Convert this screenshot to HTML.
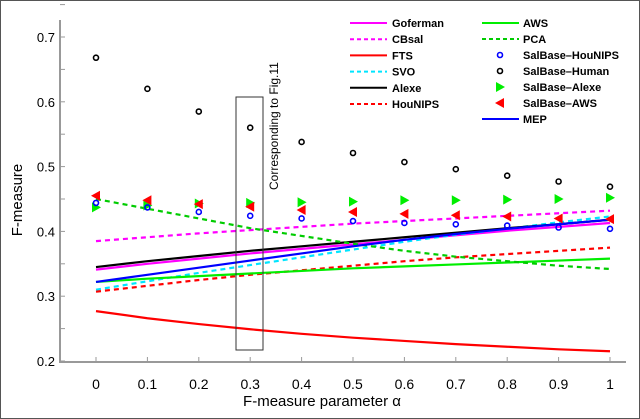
<!DOCTYPE html>
<html><head><meta charset="utf-8"><style>
body{margin:0;background:#fff;}
svg{display:block;font-family:"Liberation Sans",sans-serif;}
</style></head><body>
<svg id="chart" width="640" height="419" viewBox="0 0 640 419">
<rect x="0.5" y="0.5" width="639" height="418" fill="#fff" stroke="#555" stroke-width="1"/>
<g id="axes"></g>
<g id="series"></g>
<g id="markers"></g>
<rect x="236" y="97" width="27" height="253" fill="none" stroke="#333" stroke-width="1"/>
<text transform="translate(278,190) rotate(-90)" font-size="12" fill="#000">Corresponding to Fig.11</text>
<text x="322" y="406" font-size="15" text-anchor="middle">F-measure parameter α</text>
<text transform="translate(22,200) rotate(-90)" font-size="15" text-anchor="middle">F-measure</text>
<g id="legend"></g>
</svg>
<script>
const alphas=[0,0.1,0.2,0.3,0.4,0.5,0.6,0.7,0.8,0.9,1];
const xTicks=["0","0.1","0.2","0.3","0.4","0.5","0.6","0.7","0.8","0.9","1"];
const yTicks=[0.2,0.3,0.4,0.5,0.6,0.7];
const goferman=[0.341,0.350,0.358,0.366,0.373,0.380,0.387,0.394,0.401,0.407,0.413];
const cbsal=[0.385,0.391,0.397,0.402,0.407,0.412,0.416,0.420,0.424,0.428,0.432];
const fts=[0.277,0.266,0.257,0.249,0.242,0.236,0.231,0.226,0.222,0.218,0.215];
const svo=[0.310,0.323,0.336,0.348,0.360,0.372,0.384,0.395,0.404,0.414,0.423];
const alexe=[0.345,0.354,0.362,0.370,0.377,0.384,0.391,0.398,0.405,0.411,0.418];
const hounips=[0.307,0.316,0.325,0.333,0.340,0.347,0.354,0.360,0.365,0.370,0.375];
const aws=[0.322,0.327,0.331,0.335,0.339,0.343,0.346,0.349,0.352,0.355,0.358];
const pca=[0.450,0.435,0.420,0.405,0.393,0.381,0.370,0.361,0.354,0.347,0.342];
const mep=[0.322,0.333,0.344,0.355,0.366,0.377,0.387,0.396,0.404,0.411,0.418];
const ptHouNIPS=[0.444,0.437,0.430,0.424,0.420,0.416,0.413,0.411,0.409,0.406,0.404];
const ptHuman=[0.668,0.620,0.585,0.560,0.538,0.521,0.507,0.496,0.486,0.477,0.469];
const ptAlexe=[0.437,0.440,0.443,0.444,0.445,0.446,0.448,0.448,0.449,0.450,0.452];
const ptAWS=[0.455,0.448,0.442,0.438,0.433,0.430,0.427,0.425,0.423,0.420,0.419];

const NS="http://www.w3.org/2000/svg";
const X=a=>96+a*514;
const Y=v=>361-(v-0.2)*648;
function mk(tag,attrs,parent){const e=document.createElementNS(NS,tag);for(const k in attrs)e.setAttribute(k,attrs[k]);parent.appendChild(e);return e;}
const axes=document.getElementById('axes');
let ax=mk('path',{d:'M60 20 V362 H626',fill:'none',stroke:'#999','stroke-width':2},axes);


xTicks.forEach((t,i)=>{
  let l=mk('line',{x1:X(alphas[i]),x2:X(alphas[i]),y1:362,y2:357,stroke:'#999'},axes);
  
  
  let tx=mk('text',{x:X(alphas[i]),y:389,'font-size':14,'text-anchor':'middle'},axes);tx.textContent=t;
  
  
});
yTicks.forEach(v=>{
  let l=mk('line',{x1:60,x2:65,y1:Y(v),y2:Y(v),stroke:'#999'},axes);
  
  
  let l2=mk('line',{x1:60,x2:65,y1:Y(v+0.05),y2:Y(v+0.05),stroke:'#999'},axes);
  
  
  let tx=mk('text',{x:55,y:Y(v)+5,'font-size':13,'text-anchor':'end'},axes);tx.textContent=v.toFixed(1);
  
  
});
const lines=[
 ['Goferman',goferman,'#ff00ff',''],['CBsal',cbsal,'#ff00ff','5,4'],['FTS',fts,'#ff0000',''],
 ['SVO',svo,'#00e5ff','5,4'],['Alexe',alexe,'#000',''],['HouNIPS',hounips,'#ff0000','5,4'],
 ['AWS',aws,'#00ee00',''],['PCA',pca,'#00cc00','5,4'],['MEP',mep,'#0000ff','']];
const sg=document.getElementById('series');
lines.forEach(([n,d,c,da])=>{
  let p=mk('polyline',{points:d.map((v,i)=>X(alphas[i])+','+Y(v)).join(' '),fill:'none',stroke:c,'stroke-width':2.2,'stroke-dasharray':da},sg);
  
  
});
const mg=document.getElementById('markers');
function marker(type,x,y,g){
  if(type==='circleB')return mk('circle',{cx:x,cy:y,r:2.5,fill:'none',stroke:'#0000ff','stroke-width':1.6},g);
  if(type==='circleK')return mk('circle',{cx:x,cy:y,r:2.5,fill:'none',stroke:'#000','stroke-width':1.6},g);
  if(type==='triR')return mk('path',{d:`M${x-4} ${y-5} L${x+5} ${y} L${x-4} ${y+5}Z`,fill:'#00ee00'},g);
  return mk('path',{d:`M${x+4} ${y-5} L${x-5} ${y} L${x+4} ${y+5}Z`,fill:'#ff0000'},g);
}
[['salbase-human',ptHuman,'circleK'],['salbase-alexe',ptAlexe,'triR'],['salbase-aws',ptAWS,'triL'],['salbase-hounips',ptHouNIPS,'circleB']].forEach(([n,d,t])=>{
  d.forEach((v,i)=>{
    let m=marker(t,X(alphas[i]),Y(v),mg);
    
    
  });
});
const lg=document.getElementById('legend');
const leg1=[['Goferman','#ff00ff',''],['CBsal','#ff00ff','4,3'],['FTS','#ff0000',''],['SVO','#00e5ff','4,3'],['Alexe','#000',''],['HouNIPS','#ff0000','4,3']];
leg1.forEach(([n,c,da],i)=>{
  const y=23+i*16.2;
  let l=mk('line',{x1:350,x2:387,y1:y,y2:y,stroke:c,'stroke-width':2,'stroke-dasharray':da},lg);
  
  
  let t=mk('text',{x:392,y:y+4,'font-size':11,'font-weight':'bold'},lg);t.textContent=n;
  
  
});
const leg2=[['AWS','line','#00ee00',''],['PCA','line','#00cc00','4,3'],['SalBase–HouNIPS','circleB'],['SalBase–Human','circleK'],['SalBase–Alexe','triR'],['SalBase–AWS','triL'],['MEP','line','#0000ff','']];
leg2.forEach(([n,t,c,da],i)=>{
  const y=23+i*16;
  let s=t==='line'?mk('line',{x1:482,x2:519,y1:y,y2:y,stroke:c,'stroke-width':2,'stroke-dasharray':da},lg):marker(t,500,y,lg);
  
  
  let tx=mk('text',{x:523,y:y+4,'font-size':11,'font-weight':'bold'},lg);tx.textContent=n;
  
  
});
</script>
</body></html>
